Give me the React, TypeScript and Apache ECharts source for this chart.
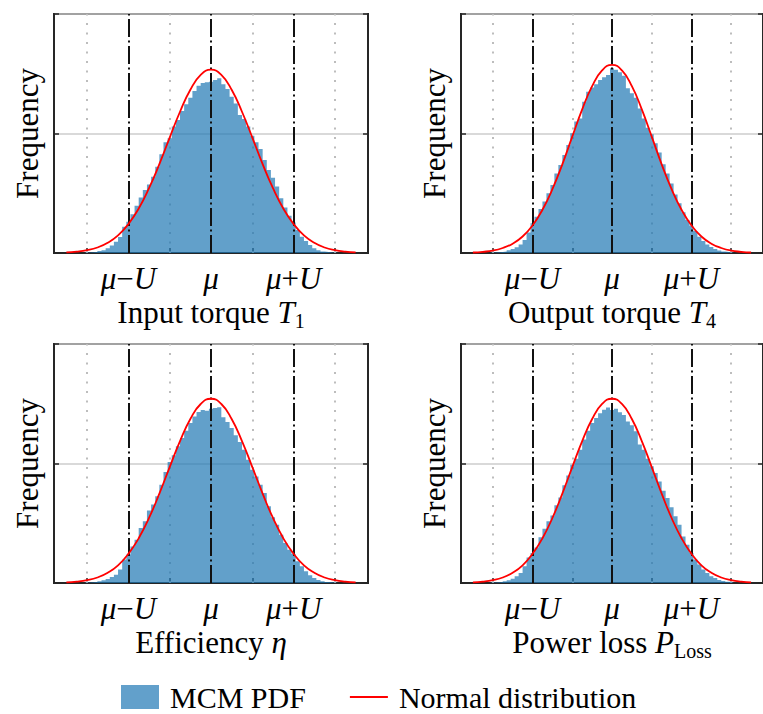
import React, { useEffect, useRef } from 'react';
import * as echarts from 'echarts';

// ---------- data ----------
const BIN_WIDTH = 0.1;
const BIN_CENTERS = [
  -3.0, -2.9, -2.8, -2.7, -2.6, -2.5, -2.4, -2.3, -2.2, -2.1,
  -2.0, -1.9, -1.8, -1.7, -1.6, -1.5, -1.4, -1.3, -1.2, -1.1,
  -1.0, -0.9, -0.8, -0.7, -0.6, -0.5, -0.4, -0.3, -0.2, -0.1,
  0.0, 0.1, 0.2, 0.3, 0.4, 0.5, 0.6, 0.7, 0.8, 0.9,
  1.0, 1.1, 1.2, 1.3, 1.4, 1.5, 1.6, 1.7, 1.8, 1.9,
  2.0, 2.1, 2.2, 2.3, 2.4, 2.5, 2.6, 2.7, 2.8, 2.9, 3.0,
];

const HIST_T1 = [
  0.002, 0.003, 0.004, 0.008, 0.011, 0.020, 0.031, 0.047, 0.067, 0.110,
  0.131, 0.162, 0.198, 0.232, 0.264, 0.287, 0.319, 0.361, 0.413, 0.463,
  0.480, 0.529, 0.556, 0.594, 0.622, 0.650, 0.678, 0.700, 0.711, 0.714,
  0.717, 0.724, 0.731, 0.706, 0.686, 0.654, 0.626, 0.577, 0.561, 0.529,
  0.491, 0.463, 0.435, 0.389, 0.347, 0.315, 0.278, 0.229, 0.190, 0.156,
  0.128, 0.096, 0.068, 0.050, 0.033, 0.020, 0.011, 0.006, 0.004, 0.002, 0.001,
];

const HIST_T4 = [
  0.002, 0.003, 0.004, 0.006, 0.011, 0.017, 0.024, 0.036, 0.054, 0.086,
  0.124, 0.152, 0.184, 0.215, 0.250, 0.285, 0.333, 0.368, 0.410, 0.452,
  0.501, 0.550, 0.563, 0.633, 0.675, 0.692, 0.706, 0.724, 0.735, 0.745,
  0.773, 0.767, 0.756, 0.742, 0.689, 0.668, 0.650, 0.605, 0.563, 0.524,
  0.497, 0.459, 0.421, 0.371, 0.333, 0.291, 0.245, 0.208, 0.170, 0.138,
  0.114, 0.092, 0.068, 0.050, 0.036, 0.025, 0.017, 0.010, 0.006, 0.004, 0.002,
];

const HIST_ETA = [
  0.002, 0.003, 0.004, 0.007, 0.011, 0.017, 0.025, 0.035, 0.056, 0.098,
  0.119, 0.153, 0.181, 0.230, 0.258, 0.303, 0.328, 0.363, 0.411, 0.464,
  0.506, 0.534, 0.572, 0.607, 0.637, 0.669, 0.697, 0.715, 0.724, 0.721,
  0.729, 0.732, 0.735, 0.693, 0.674, 0.649, 0.618, 0.590, 0.558, 0.516,
  0.474, 0.446, 0.411, 0.377, 0.321, 0.275, 0.244, 0.202, 0.167, 0.139,
  0.121, 0.091, 0.070, 0.049, 0.032, 0.021, 0.013, 0.007, 0.004, 0.003, 0.001,
];

const HIST_PLOSS = [
  0.002, 0.003, 0.004, 0.007, 0.011, 0.018, 0.028, 0.042, 0.070, 0.107,
  0.126, 0.149, 0.191, 0.227, 0.258, 0.282, 0.325, 0.358, 0.409, 0.450,
  0.495, 0.520, 0.558, 0.600, 0.637, 0.669, 0.690, 0.710, 0.725, 0.734,
  0.724, 0.729, 0.714, 0.703, 0.676, 0.660, 0.635, 0.579, 0.558, 0.520,
  0.488, 0.460, 0.425, 0.386, 0.356, 0.317, 0.279, 0.244, 0.195, 0.160,
  0.126, 0.098, 0.077, 0.056, 0.042, 0.028, 0.021, 0.013, 0.008, 0.005, 0.003,
];

const CURVE_X = [
  -3.5, -3.25, -3.0, -2.75, -2.5, -2.25, -2.0, -1.75, -1.5, -1.25, -1.0, -0.75, -0.5, -0.25,
  0.0, 0.25, 0.5, 0.75, 1.0, 1.25, 1.5, 1.75, 2.0, 2.25, 2.5, 2.75, 3.0, 3.25, 3.5,
];

const NORMAL_T1 = [
  0.003, 0.006, 0.012, 0.023, 0.043, 0.074, 0.121, 0.186, 0.271, 0.372, 0.483, 0.591, 0.683, 0.745,
  0.767, 0.745, 0.683, 0.591, 0.483, 0.372, 0.271, 0.186, 0.121, 0.074, 0.043, 0.023, 0.012, 0.006, 0.003,
];
const NORMAL_T4 = [
  0.002, 0.005, 0.010, 0.021, 0.039, 0.069, 0.115, 0.181, 0.267, 0.371, 0.487, 0.601, 0.698, 0.764,
  0.787, 0.764, 0.698, 0.601, 0.487, 0.371, 0.267, 0.181, 0.115, 0.069, 0.039, 0.021, 0.010, 0.005, 0.002,
];
const NORMAL_ETA = [
  0.003, 0.006, 0.012, 0.023, 0.043, 0.074, 0.122, 0.187, 0.272, 0.374, 0.485, 0.594, 0.686, 0.749,
  0.771, 0.749, 0.686, 0.594, 0.485, 0.374, 0.272, 0.187, 0.122, 0.074, 0.043, 0.023, 0.012, 0.006, 0.003,
];
const NORMAL_PLOSS = [
  0.003, 0.006, 0.012, 0.023, 0.043, 0.074, 0.122, 0.187, 0.272, 0.374, 0.485, 0.594, 0.686, 0.749,
  0.771, 0.749, 0.686, 0.594, 0.485, 0.374, 0.272, 0.187, 0.122, 0.074, 0.043, 0.023, 0.012, 0.006, 0.003,
];

const TICK_VALUES = [-2, 0, 2];
const TICK_LABELS = ['μ−U', 'μ', 'μ+U'];
const MINOR_TICKS = [-3, -2, -1, 0, 1, 2, 3];
const DOTTED_LINES = [-3, -1, 1, 3];
const DASHDOT_LINES = [-2, 0, 2];

const PANEL_NAMES = [
  'Input torque {i|T}{sub|1}',
  'Output torque {i|T}{sub|4}',
  'Efficiency {i|η}',
  'Power loss {i|P}{sub|Loss}',
];
const Y_NAME = 'Frequency';
const LEGEND_HIST = 'MCM PDF';
const LEGEND_NORMAL = 'Normal distribution';

const HISTS = [HIST_T1, HIST_T4, HIST_ETA, HIST_PLOSS];
const NORMALS = [NORMAL_T1, NORMAL_T4, NORMAL_ETA, NORMAL_PLOSS];

// ---------- style ----------
const X_MIN = -3.8;
const X_MAX = 3.8;
const SERIF = '"Liberation Serif", "Times New Roman", serif';
const HIST_BASE = '#1f77b4';
const HIST_LEGEND = '#62a0cb';
const AXIS_COLOR = '#262626';
const GRID_LEFTS = [54, 461];
const GRID_TOPS = [14, 344];
const GRID_W = 314;
const GRID_H = 239;
const FS = 31;

function italicize(s: string): string {
  return s
    .split('')
    .map((ch) => (/[μU]/.test(ch) ? `{i|${ch}}` : `{n|${ch}}`))
    .join('');
}

export default function App() {
  const ref = useRef<HTMLDivElement | null>(null);

  useEffect(() => {
    if (!ref.current) return;
    const chart = echarts.init(ref.current, undefined, { renderer: 'svg' });

    const grids: any[] = [];
    const xAxes: any[] = [];
    const yAxes: any[] = [];
    const series: any[] = [];

    for (let p = 0; p < 4; p++) {
      grids.push({
        left: GRID_LEFTS[p % 2],
        top: GRID_TOPS[Math.floor(p / 2)],
        width: GRID_W,
        height: GRID_H,
        show: true,
        borderColor: AXIS_COLOR,
        borderWidth: 2,
        backgroundColor: 'transparent',
      });

      xAxes.push({
        type: 'value',
        gridIndex: p,
        min: X_MIN,
        max: X_MAX,
        axisLine: { show: true, onZero: false, lineStyle: { color: AXIS_COLOR, width: 2 } },
        axisTick: {
          show: true,
          inside: true,
          length: 5,
          customValues: MINOR_TICKS,
          lineStyle: { color: AXIS_COLOR, width: 1.5 },
        },
        axisLabel: {
          show: true,
          customValues: TICK_VALUES,
          margin: 9,
          color: '#000',
          fontFamily: SERIF,
          fontSize: FS,
          lineHeight: 32,
          formatter: (v: number) => {
            const idx = TICK_VALUES.indexOf(v);
            return idx >= 0 ? italicize(TICK_LABELS[idx]) : '';
          },
          rich: {
            i: { fontStyle: 'italic', fontFamily: SERIF, fontSize: FS, lineHeight: 32, color: '#000' },
            n: { fontFamily: SERIF, fontSize: FS, lineHeight: 32, color: '#000' },
          },
        },
        splitLine: { show: false },
        name: PANEL_NAMES[p],
        nameLocation: 'middle',
        nameGap: 33,
        nameTextStyle: {
          color: '#000',
          fontFamily: SERIF,
          fontSize: FS,
          lineHeight: 36,
          rich: {
            i: { fontStyle: 'italic', fontFamily: SERIF, fontSize: FS, lineHeight: 36, color: '#000' },
            sub: { fontFamily: SERIF, fontSize: 20, lineHeight: 20, verticalAlign: 'bottom', color: '#000' },
          },
        },
      });

      yAxes.push({
        type: 'value',
        gridIndex: p,
        min: 0,
        max: 1,
        interval: 0.5,
        position: 'left',
        axisLine: { show: true, onZero: false, lineStyle: { color: AXIS_COLOR, width: 2 } },
        axisTick: { show: true, inside: true, length: 5, lineStyle: { color: AXIS_COLOR, width: 1.5 } },
        axisLabel: { show: false },
        splitLine: { show: true, lineStyle: { color: '#cccccc', width: 1.5 } },
        name: Y_NAME,
        nameLocation: 'middle',
        nameGap: 11,
        nameTextStyle: { color: '#000', fontFamily: SERIF, fontSize: FS },
      });
      yAxes.push({
        type: 'value',
        gridIndex: p,
        min: 0,
        max: 1,
        interval: 0.5,
        position: 'right',
        axisLine: { show: true, onZero: false, lineStyle: { color: AXIS_COLOR, width: 2 } },
        axisTick: { show: true, inside: true, length: 5, lineStyle: { color: AXIS_COLOR, width: 1.5 } },
        axisLabel: { show: false },
        splitLine: { show: false },
      });

      const hist = HISTS[p];
      const histData: number[][] = BIN_CENTERS.map((c, i) => [c - BIN_WIDTH / 2, hist[i]]);
      histData.push([BIN_CENTERS[BIN_CENTERS.length - 1] + BIN_WIDTH / 2, 0]);

      series.push({
        name: LEGEND_HIST,
        type: 'line',
        xAxisIndex: p,
        yAxisIndex: p * 2,
        step: 'end',
        symbol: 'none',
        color: HIST_LEGEND,
        lineStyle: { width: 0, opacity: 0 },
        itemStyle: { color: HIST_LEGEND },
        areaStyle: { color: HIST_BASE, opacity: 0.7 },
        data: histData,
        z: 2,
        silent: true,
        markLine: {
          z: 1,
          silent: true,
          symbol: ['none', 'none'],
          label: { show: false },
          lineStyle: { color: '#bdbdbd', width: 2, type: [2, 7.5] },
          data: DOTTED_LINES.map((v) => ({ xAxis: v })),
        },
      });

      const normal = NORMALS[p];
      series.push({
        name: LEGEND_NORMAL,
        type: 'line',
        xAxisIndex: p,
        yAxisIndex: p * 2,
        smooth: true,
        symbol: 'none',
        color: '#ff0000',
        lineStyle: { color: '#ff0000', width: 1.8 },
        data: CURVE_X.map((x, i) => [x, normal[i]]),
        z: 4,
        silent: true,
        markLine: {
          z: 3,
          silent: true,
          symbol: ['none', 'none'],
          label: { show: false },
          lineStyle: { color: '#111111', width: 2, type: [18, 3.5, 2, 3.5] },
          data: DASHDOT_LINES.map((v) => ({ xAxis: v })),
        },
      });
    }

    chart.setOption({
      animation: false,
      backgroundColor: '#ffffff',
      grid: grids,
      xAxis: xAxes,
      yAxis: yAxes,
      series,
      legend: {
        show: true,
        left: 121,
        top: 682,
        padding: 0,
        itemWidth: 38,
        itemHeight: 24,
        itemGap: 44,
        selectedMode: false,
        textStyle: { color: '#000', fontFamily: SERIF, fontSize: 30, lineHeight: 24, padding: [0, 0, 0, 6] },
        data: [
          { name: LEGEND_HIST, icon: 'rect', itemStyle: { color: HIST_LEGEND } },
          { name: LEGEND_NORMAL, icon: 'path://M0,0L38,0L38,2L0,2Z', itemStyle: { color: '#ff0000' } },
        ],
      },
    });

    return () => {
      chart.dispose();
    };
  }, []);

  return (
    <div style={{ position: 'absolute', left: 0, top: 0, width: 763, height: 714, overflow: 'hidden', background: '#fff' }}>
      <div ref={ref} style={{ width: 763, height: 714 }} />
    </div>
  );
}
